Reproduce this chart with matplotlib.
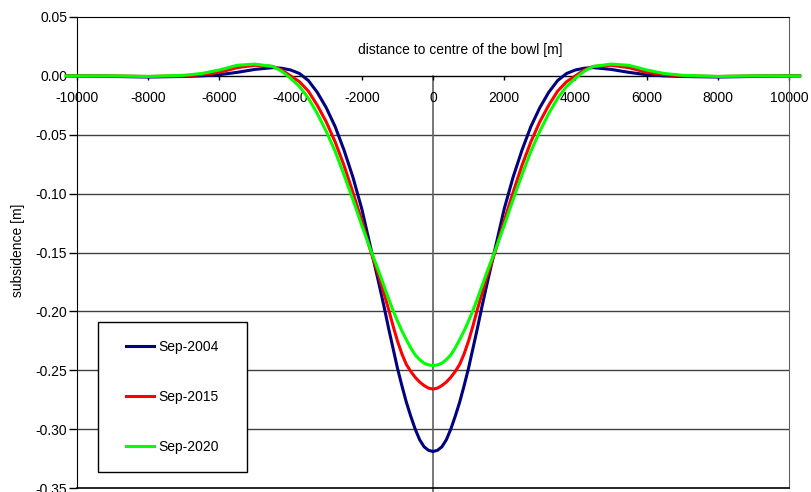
import numpy as np
import matplotlib
matplotlib.use('Agg')
import matplotlib.pyplot as plt
from matplotlib.patches import Rectangle

# ============================== dados (meio perfil, de 0 ate a borda) ==============================

dist_half = [0, 125, 250, 375, 500, 625, 750, 875, 1000, 1125, 1250, 1375, 1500, 1750, 2000, 2250,
             2500, 2750, 3000, 3250, 3500, 3750, 4000, 4250, 4500, 5000, 5500, 6000, 6500, 7000,
             8000, 9000, 10000, 10300]

sep2004_half = [-0.319, -0.318, -0.315, -0.309, -0.300, -0.289, -0.277, -0.263, -0.248, -0.231, -0.214,
                -0.196, -0.179, -0.146, -0.113, -0.086, -0.063, -0.043, -0.027, -0.014, -0.004,
                0.002, 0.005, 0.0065, 0.007, 0.0055, 0.003, 0.001, 0.0, -0.0005, -0.001, -0.0005,
                0.0, 0.0]
sep2015_half = [-0.266, -0.2652, -0.263, -0.260, -0.256, -0.251, -0.245, -0.236, -0.225, -0.212, -0.198,
                -0.185, -0.172, -0.149, -0.123, -0.099, -0.076, -0.056, -0.039, -0.025, -0.013,
                -0.005, 0.0, 0.005, 0.008, 0.009, 0.007, 0.003, 0.001, 0.0, -0.0005, 0.0, 0.0, 0.0]
sep2020_half = [-0.246, -0.2455, -0.244, -0.241, -0.237, -0.231, -0.224, -0.2165, -0.208, -0.199, -0.189,
                -0.1785, -0.168, -0.148, -0.127, -0.105, -0.084, -0.064, -0.047, -0.032, -0.019,
                -0.009, -0.002, 0.004, 0.008, 0.010, 0.009, 0.005, 0.002, 0.0005, -0.0005, 0.0,
                0.0, 0.0]

series_labels = ['Sep-2004', 'Sep-2015', 'Sep-2020']
series_colors = ['#000080', '#FF0000', '#00FF00']

x_ticks = [-10000, -8000, -6000, -4000, -2000, 0, 2000, 4000, 6000, 8000, 10000]
y_ticks = [0.05, 0.00, -0.05, -0.10, -0.15, -0.20, -0.25, -0.30, -0.35]


def espelhar(v, sinal=1):
    # perfil simetrico em torno do centro da bacia
    v = np.asarray(v, dtype=float)
    return np.concatenate([sinal * v[:0:-1], v])


dist = espelhar(dist_half, -1)
series = [espelhar(sep2004_half), espelhar(sep2015_half), espelhar(sep2020_half)]

# ============================== figura ==============================

plt.rcParams['font.family'] = ['Liberation Sans', 'DejaVu Sans']
plt.rcParams['axes.unicode_minus'] = False
fs = 10

fig = plt.figure(figsize=(8.12, 4.92), dpi=100)
ax = fig.add_axes([77 / 812, 1 - 488 / 492, 712 / 812, 471 / 492])

ax.set_xlim(-10000, 10000)
ax.set_ylim(-0.35, 0.05)

# linhas de grade horizontais
for yv in y_ticks[1:-1]:
    ax.axhline(yv, color='#404040', lw=1.0, zorder=1)

# linha vertical no centro
ax.plot([0, 0], [0, -0.358], color='#606060', lw=1.2, zorder=1, clip_on=False)

for y, lab, col in zip(series, series_labels, series_colors):
    ax.plot(dist, y, color=col, lw=2.2, label=lab, zorder=5, clip_on=False, solid_joinstyle='round')

# eixos
ax.spines['bottom'].set_position(('data', 0))
ax.spines['bottom'].set_color('black')
ax.spines['left'].set_color('black')
ax.spines['top'].set_color('black')
ax.spines['right'].set_color('#606060')
ax.axhline(-0.35, color='black', lw=1.2, zorder=6, clip_on=False)

ax.set_xticks(x_ticks)
ax.set_xticklabels([str(v) for v in x_ticks], fontsize=fs)
ax.set_yticks(y_ticks)
ax.set_yticklabels(['%.2f' % v for v in y_ticks], fontsize=fs)
ax.tick_params(axis='x', direction='out', length=3, width=1, pad=8, color='black')
ax.tick_params(axis='y', direction='out', length=6, width=1, pad=1, color='black')

ax.text((460 - 77) / 712, (488 - 50) / 471, 'distance to centre of the bowl [m]',
        transform=ax.transAxes, ha='center', va='center', fontsize=fs)
fig.text(18 / 812, 1 - 250 / 492, 'subsidence [m]', rotation=90, ha='center', va='center', fontsize=fs)

# ============================== legenda ==============================

ax.add_patch(Rectangle(((98 - 77) / 712, (488 - 472) / 471), 149 / 712, 150 / 471,
                       transform=ax.transAxes, facecolor='white', edgecolor='black', lw=1.0, zorder=7))
leg = ax.legend(loc='center', bbox_to_anchor=((172.5 - 77) / 712, (488 - 397) / 471),
                frameon=False, fontsize=fs, handlelength=2.0, handletextpad=0.3, labelspacing=2.6)
leg.set_zorder(8)

fig.savefig('out.png', dpi=100)
